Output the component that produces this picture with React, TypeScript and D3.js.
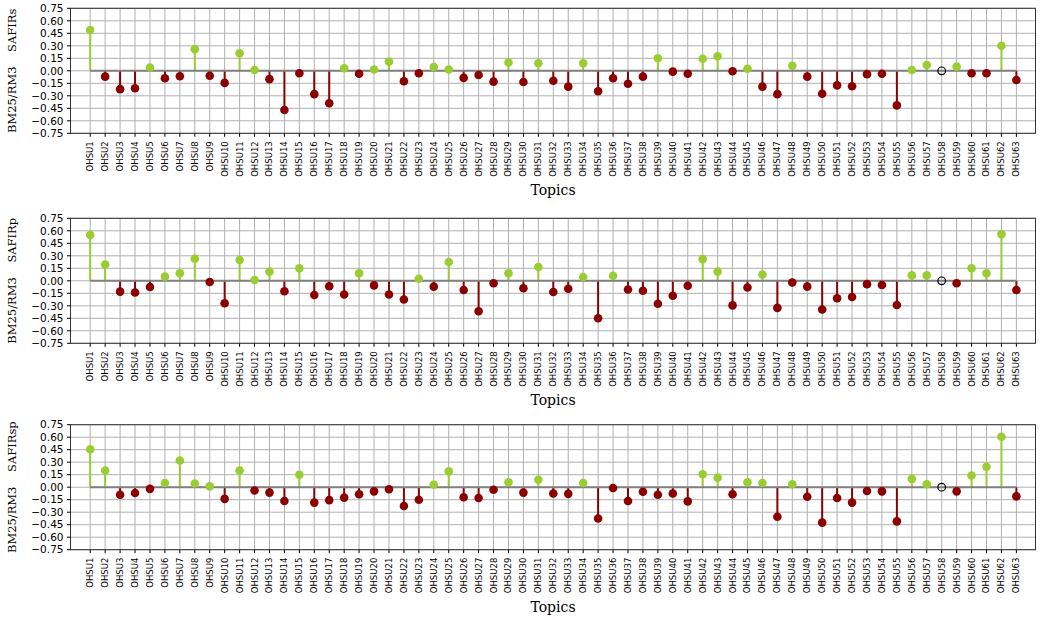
import React from "react";
import * as d3 from "d3";

const topics: string[] = Array.from({ length: 63 }, (_, i) => `OHSU${i + 1}`);

const safirs: number[] = [
  0.49, -0.07, -0.22, -0.21, 0.04, -0.09, -0.065, 0.26, -0.06, -0.145,
  0.21, 0.01, -0.1, -0.47, -0.03, -0.28, -0.39, 0.03, -0.035, 0.015,
  0.11, -0.125, -0.03, 0.045, 0.015, -0.085, -0.05, -0.13, 0.1, -0.135,
  0.09, -0.12, -0.19, 0.09, -0.245, -0.09, -0.155, -0.07, 0.15, -0.01,
  -0.035, 0.145, 0.175, -0.005, 0.025, -0.19, -0.28, 0.06, -0.07, -0.275,
  -0.175, -0.185, -0.04, -0.035, -0.415, 0.01, 0.07, 0, 0.05, -0.03,
  -0.03, 0.3, -0.11,
];

const safirp: number[] = [
  0.55, 0.195, -0.13, -0.14, -0.075, 0.05, 0.09, 0.265, -0.015, -0.27,
  0.25, 0.01, 0.11, -0.125, 0.15, -0.17, -0.065, -0.165, 0.09, -0.055,
  -0.165, -0.225, 0.025, -0.07, 0.225, -0.11, -0.365, -0.03, 0.09, -0.09,
  0.165, -0.135, -0.095, 0.045, -0.45, 0.06, -0.105, -0.12, -0.275, -0.18,
  -0.06, 0.26, 0.11, -0.295, -0.08, 0.075, -0.325, -0.02, -0.07, -0.345,
  -0.21, -0.195, -0.04, -0.05, -0.29, 0.065, 0.065, 0, -0.03, 0.15,
  0.09, 0.56, -0.11,
];

const safirsp: number[] = [
  0.455, 0.2, -0.09, -0.07, -0.02, 0.05, 0.32, 0.045, 0.01, -0.14,
  0.2, -0.04, -0.065, -0.165, 0.15, -0.185, -0.155, -0.125, -0.085, -0.05,
  -0.025, -0.225, -0.15, 0.03, 0.19, -0.12, -0.13, -0.03, 0.06, -0.065,
  0.09, -0.075, -0.08, 0.05, -0.375, -0.01, -0.165, -0.055, -0.09, -0.075,
  -0.17, 0.155, 0.115, -0.085, 0.06, 0.05, -0.355, 0.035, -0.115, -0.425,
  -0.13, -0.185, -0.045, -0.05, -0.41, 0.1, 0.035, 0, -0.05, 0.14,
  0.245, 0.605, -0.11,
];

const yTicks: number[] = [0.75, 0.6, 0.45, 0.3, 0.15, 0, -0.15, -0.3, -0.45, -0.6, -0.75];

const panels = [
  { name: "SAFIRs", values: safirs, top: 8.3 },
  { name: "SAFIRp", values: safirp, top: 218.3 },
  { name: "SAFIRsp", values: safirsp, top: 424.7 },
];

const LEFT = 70.5;
const RIGHT = 1035.5;
const PH = 125;
const GREEN = "#9acd32";
const RED = "#8b0000";

const fmt = (v: number) => {
  const s = v.toFixed(2);
  return s.startsWith("-") ? "\u2212" + s.slice(1) : s;
};

function Panel({ name, values, top }: { name: string; values: number[]; top: number }) {
  const x = d3.scaleLinear().domain([-1.32, 63.28]).range([LEFT, RIGHT]);
  const y = d3.scaleLinear().domain([-0.75, 0.75]).range([top + PH, top]);
  const bottom = top + PH;
  const y0 = y(0);
  return (
    <g>
      {/* grid */}
      {topics.map((t, i) => (
        <line key={"vg" + t} x1={x(i)} x2={x(i)} y1={top} y2={bottom} stroke="#b0b0b0" strokeWidth={1} />
      ))}
      {yTicks.map((v) => (
        <line key={"hg" + v} x1={LEFT} x2={RIGHT} y1={y(v)} y2={y(v)} stroke="#b0b0b0" strokeWidth={1} />
      ))}
      {/* stems */}
      {values.map((v, i) =>
        v === 0 ? null : (
          <line key={"st" + i} x1={x(i)} x2={x(i)} y1={y0} y2={y(v)} stroke={v > 0 ? GREEN : RED} strokeWidth={2} />
        )
      )}
      {/* baseline */}
      <line x1={x(0)} x2={x(values.length - 1)} y1={y0} y2={y0} stroke="#808080" strokeWidth={2} />
      {/* markers */}
      {values.map((v, i) =>
        v === 0 ? (
          <circle key={"mk" + i} cx={x(i)} cy={y(v)} r={3.8} fill="none" stroke="#000" strokeWidth={1.2} />
        ) : (
          <circle key={"mk" + i} cx={x(i)} cy={y(v)} r={4.3} fill={v > 0 ? GREEN : RED} />
        )
      )}
      {/* frame */}
      <rect x={LEFT} y={top} width={RIGHT - LEFT} height={PH} fill="none" stroke="#333" strokeWidth={1} />
      {/* y ticks */}
      {yTicks.map((v) => (
        <g key={"yt" + v}>
          <line x1={LEFT - 3.5} x2={LEFT} y1={y(v)} y2={y(v)} stroke="#000" strokeWidth={1} />
          <text x={LEFT - 7} y={y(v)} dy="0.36em" textAnchor="end" fontFamily="DejaVu Sans" fontSize={10.5} fill="#000">
            {fmt(v)}
          </text>
        </g>
      ))}
      {/* x ticks */}
      {topics.map((t, i) => (
        <g key={"xt" + t}>
          <line x1={x(i)} x2={x(i)} y1={bottom} y2={bottom + 3.5} stroke="#000" strokeWidth={1} />
          <text
            transform={`translate(${x(i)},${bottom + 8}) rotate(-90)`}
            dy="0.35em"
            textAnchor="end"
            fontFamily="DejaVu Sans"
            fontSize={8.5}
            fill="#000"
          >
            {t}
          </text>
        </g>
      ))}
      {/* x title */}
      <text x={(LEFT + RIGHT) / 2} y={bottom + 62} textAnchor="middle" fontFamily="DejaVu Serif" fontSize={14} fill="#000">
        Topics
      </text>
      {/* y title */}
      <text
        transform={`translate(15.5,${top + PH / 2}) rotate(-90)`}
        textAnchor="middle"
        fontFamily="DejaVu Serif"
        fontSize={11.5}
        fill="#000"
        style={{ whiteSpace: "pre" }}
      >
        {"BM25/RM3    " + name}
      </text>
    </g>
  );
}

export default function App() {
  return (
    <svg
      width={1040}
      height={620}
      style={{ position: "absolute", left: 0, top: 0, display: "block", background: "#fff" }}
    >
      <rect x={0} y={0} width={1040} height={620} fill="#fff" />
      {panels.map((p) => (
        <Panel key={p.name} name={p.name} values={p.values} top={p.top} />
      ))}
    </svg>
  );
}
